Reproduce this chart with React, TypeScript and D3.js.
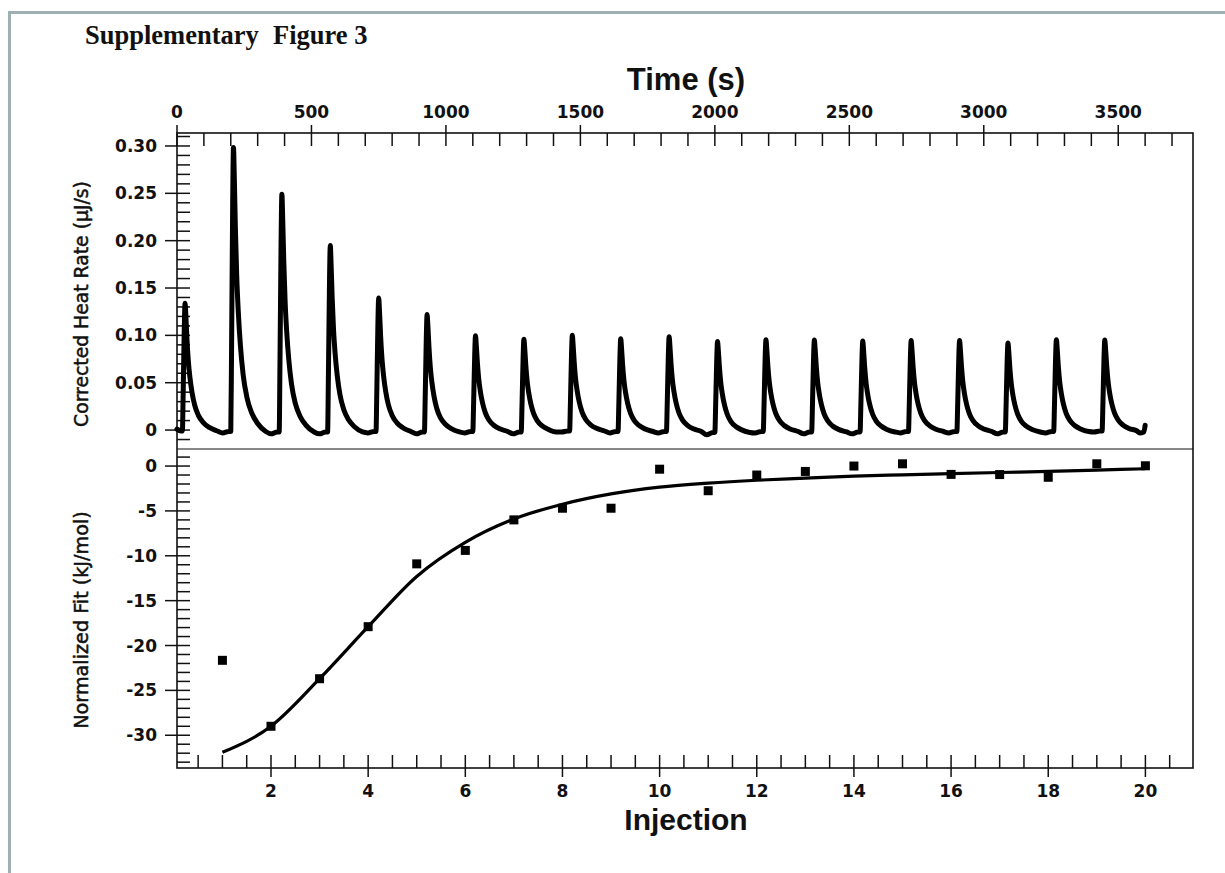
import React from 'react';
import * as d3 from 'd3';

// ---- Upper panel: thermogram (Corrected Heat Rate, µJ/s vs Time, s) ----
const injectionTimes = [20, 200, 380, 560, 740, 920, 1100, 1280, 1460, 1640, 1820, 2000, 2180, 2360, 2540, 2720, 2900, 3080, 3260, 3440];
const peakHeights = [0.135, 0.300, 0.251, 0.197, 0.141, 0.124, 0.101, 0.098, 0.101, 0.098, 0.100, 0.096, 0.097, 0.097, 0.096, 0.096, 0.096, 0.094, 0.097, 0.096];
const baselineDips = [-0.003, -0.004, -0.004, -0.003, -0.004, -0.003, -0.004, -0.002, -0.003, -0.003, -0.005, -0.003, -0.004, -0.004, -0.003, -0.003, -0.004, -0.003, -0.002, -0.003];
// peak profile: seconds after injection, fraction of peak height
const profileOffsets = [0, 3, 7, 10, 13, 17, 22, 28, 36, 46, 60, 78, 100, 130];
const profileShape = [0, 0.3, 0.8, 1.0, 0.9, 0.72, 0.55, 0.42, 0.3, 0.2, 0.12, 0.065, 0.028, 0];
const traceStart = [[0, 0.001], [15, -0.001]];
const traceEnd = [[3580, -0.003], [3595, -0.002], [3600, 0.005]];

// ---- Lower panel: integrated heats (Normalized Fit, kJ/mol vs Injection) ----
const injections = [1, 2, 3, 4, 5, 6, 7, 8, 9, 10, 11, 12, 13, 14, 15, 16, 17, 18, 19, 20];
const heatPoints = [-21.65, -29.0, -23.7, -17.9, -10.9, -9.4, -6.0, -4.7, -4.7, -0.35, -2.75, -1.0, -0.6, 0.0, 0.25, -0.93, -0.95, -1.25, 0.25, 0.03];
const fitValues = [-31.9, -29.0, -23.7, -17.9, -12.3, -8.5, -5.9, -4.25, -3.1, -2.35, -1.9, -1.58, -1.35, -1.12, -0.98, -0.84, -0.72, -0.6, -0.45, -0.3];

// ---- Tick labels ----
const timeTickLabels = [0, 500, 1000, 1500, 2000, 2500, 3000, 3500];
const heatTickLabels = ['0', '0.05', '0.10', '0.15', '0.20', '0.25', '0.30'];
const fitTickLabels = [0, -5, -10, -15, -20, -25, -30];
const injTickLabels = [2, 4, 6, 8, 10, 12, 14, 16, 18, 20];

export default function App() {
  const L = 177, R = 1193, T = 133, MID = 449, B = 768;
  const xTime = d3.scaleLinear().domain([0, 3778]).range([L, R]);
  const yHeat = d3.scaleLinear().domain([-0.02, 0.3137]).range([MID, T]);
  const xInj = d3.scaleLinear().domain([0.065, 20.98]).range([L, R]);
  const yFit = d3.scaleLinear().domain([-33.65, 1.9]).range([B, MID]);

  // build thermogram trace table from arrays
  const trace: [number, number][] = [];
  traceStart.forEach((p) => trace.push([p[0], p[1]]));
  injectionTimes.forEach((t0, i) => {
    const base = i === 0 ? -0.001 : baselineDips[i - 1] * 0.5;
    profileOffsets.forEach((off, j) => {
      trace.push([t0 + off, base + peakHeights[i] * profileShape[j]]);
    });
    if (i < injectionTimes.length - 1) {
      const next = injectionTimes[i + 1];
      trace.push([t0 + 150, baselineDips[i]]);
      trace.push([next - 8, baselineDips[i] * 0.5]);
    }
  });
  traceEnd.forEach((p) => trace.push([p[0], p[1]]));

  const traceLine = d3.line<[number, number]>()
    .x((d) => xTime(d[0]))
    .y((d) => yHeat(d[1]))
    .curve(d3.curveMonotoneX);

  const fitLine = d3.line<number>()
    .x((_, i) => xInj(injections[i]))
    .y((d) => yFit(d))
    .curve(d3.curveMonotoneX);

  const tickFont = '"DejaVu Sans", sans-serif';
  const titleFont = '"Liberation Sans", Arial, sans-serif';

  const timeTicks = d3.range(0, 3701, 100);
  const heatTicks = d3.range(-1, 32).map((k) => k / 100);
  const fitTicks = d3.range(-33, 2);
  const injTicks = d3.range(1, 42).map((k) => k / 2);

  return (
    <div style={{ position: 'fixed', left: 0, top: 0 }}>
      <svg width={1225} height={873} style={{ display: 'block', background: '#fff' }}>
        {/* page frame */}
        <rect x={9.5} y={12.5} width={1240} height={880} fill="none" stroke="#9fb0b2" strokeWidth={3} />

        <text x={85} y={44} fontFamily='"Liberation Serif", "Times New Roman", serif' fontWeight="bold" fontSize={26.5} fill="#111">
          Supplementary
        </text>
        <text x={273} y={44} fontFamily='"Liberation Serif", "Times New Roman", serif' fontWeight="bold" fontSize={26.5} fill="#111">
          Figure 3
        </text>

        {/* axis titles */}
        <text x={686} y={90} textAnchor="middle" fontFamily={titleFont} fontWeight="bold" fontSize={31} fill="#111">Time (s)</text>
        <text x={686} y={830} textAnchor="middle" fontFamily={titleFont} fontWeight="bold" fontSize={30} fill="#111">Injection</text>
        <text transform="translate(88,304) rotate(-90)" textAnchor="middle" fontFamily={tickFont} fontSize={18.8} fill="#111" stroke="#111" strokeWidth={0.5}>
          Corrected Heat Rate (µJ/s)
        </text>
        <text transform="translate(88,620) rotate(-90)" textAnchor="middle" fontFamily={tickFont} fontSize={19.2} fill="#111" stroke="#111" strokeWidth={0.5}>
          Normalized Fit (kJ/mol)
        </text>

        {/* top time axis ticks */}
        {timeTicks.map((t) => {
          const x = xTime(t);
          const major = t % 500 === 0;
          return <line key={'tt' + t} x1={x} x2={x} y1={major ? T - 8 : T} y2={T + 13} stroke="#111" strokeWidth={1.5} />;
        })}
        {timeTickLabels.map((t) => (
          <text key={'tl' + t} x={xTime(t)} y={118} textAnchor="middle" fontFamily={tickFont} fontWeight="bold" fontSize={17} fill="#111">{t}</text>
        ))}

        {/* upper left axis ticks */}
        {heatTicks.map((v, k) => {
          const y = yHeat(v);
          const major = Math.round(v * 100) % 5 === 0 && v >= 0 && v <= 0.3;
          return <line key={'ht' + k} x1={major ? L - 12 : L} x2={L + 13} y1={y} y2={y} stroke="#111" strokeWidth={1.5} />;
        })}
        {heatTickLabels.map((s, k) => (
          <text key={'hl' + k} x={157} y={yHeat(k * 0.05) + 6} textAnchor="end" fontFamily={tickFont} fontWeight="bold" fontSize={17} fill="#111">{s}</text>
        ))}

        {/* lower left axis ticks */}
        {fitTicks.map((v) => {
          const y = yFit(v);
          const major = v % 5 === 0 && v <= 0 && v >= -30;
          return <line key={'ft' + v} x1={major ? L - 12 : L} x2={L + 13} y1={y} y2={y} stroke="#111" strokeWidth={1.5} />;
        })}
        {fitTickLabels.map((v) => (
          <text key={'fl' + v} x={157} y={yFit(v) + 6} textAnchor="end" fontFamily={tickFont} fontWeight="bold" fontSize={17} fill="#111">{v}</text>
        ))}

        {/* bottom injection axis ticks */}
        {injTicks.map((v) => {
          const x = xInj(v);
          const major = v % 2 === 0;
          return <line key={'it' + v} x1={x} x2={x} y1={B - 13} y2={major ? B + 9 : B} stroke="#111" strokeWidth={1.5} />;
        })}
        {injTickLabels.map((v) => (
          <text key={'il' + v} x={xInj(v)} y={797} textAnchor="middle" fontFamily={tickFont} fontWeight="bold" fontSize={17} fill="#111">{v}</text>
        ))}

        {/* frame */}
        <rect x={L} y={T} width={R - L} height={B - T} fill="none" stroke="#111" strokeWidth={1.6} />
        <line x1={L} x2={R} y1={MID} y2={MID} stroke="#111" strokeWidth={1.2} />

        {/* thermogram */}
        <path d={traceLine(trace) || ''} fill="none" stroke="#000" strokeWidth={5} strokeLinejoin="round" strokeLinecap="round" />

        {/* fit curve and points */}
        <path d={fitLine(fitValues) || ''} fill="none" stroke="#000" strokeWidth={3.2} />
        {heatPoints.map((v, i) => (
          <rect key={'p' + i} x={xInj(injections[i]) - 4.5} y={yFit(v) - 4.5} width={9} height={9} fill="#000" />
        ))}
      </svg>
    </div>
  );
}
